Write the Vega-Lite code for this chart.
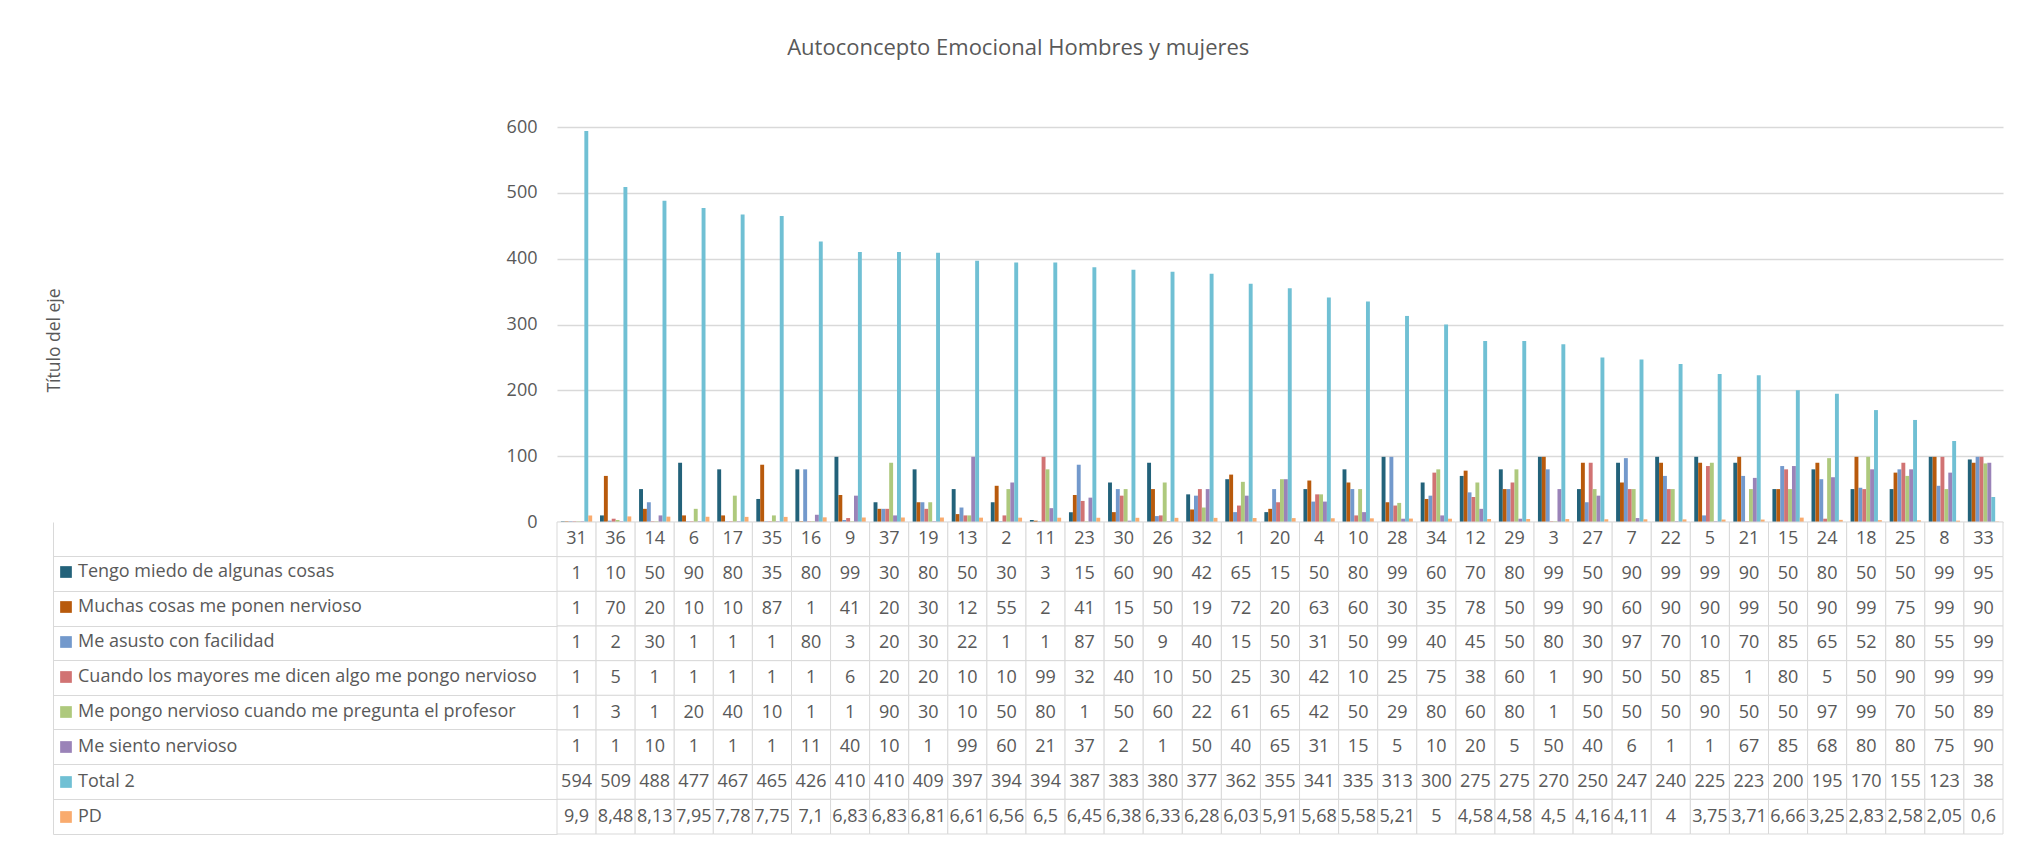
{
  "$schema": "https://vega.github.io/schema/vega-lite/v6.json",
  "padding": {"left": 45, "top": 37, "right": 16, "bottom": 8},
  "background": "white",
  "bounds": "flush",
  "title": {"text": "Autoconcepto Emocional Hombres y mujeres", "fontSize": 22, "fontWeight": "normal", "color": "#595959", "font": "Open Sans", "anchor": "middle", "offset": 58, "dx": -6},
  "config": {
    "view": {"stroke": null},
    "font": "Open Sans",
    "locale": {"number": {"decimal": ",", "thousands": ".", "grouping": [3], "currency": ["", " €"]}}
  },
  "resolve": {"scale": {"color": "independent"}, "legend": {"color": "independent"}},
  "spacing": 0,
  "datasets": {
    "d": [
      {"cat": 31, "Tengo miedo de algunas cosas": 1, "Muchas cosas me ponen nervioso": 1, "Me asusto con facilidad": 1, "Cuando los mayores me dicen algo me pongo nervioso": 1, "Me pongo nervioso cuando me pregunta el profesor": 1, "Me siento nervioso": 1, "Total 2": 594, "PD": 9.9},
      {"cat": 36, "Tengo miedo de algunas cosas": 10, "Muchas cosas me ponen nervioso": 70, "Me asusto con facilidad": 2, "Cuando los mayores me dicen algo me pongo nervioso": 5, "Me pongo nervioso cuando me pregunta el profesor": 3, "Me siento nervioso": 1, "Total 2": 509, "PD": 8.48},
      {"cat": 14, "Tengo miedo de algunas cosas": 50, "Muchas cosas me ponen nervioso": 20, "Me asusto con facilidad": 30, "Cuando los mayores me dicen algo me pongo nervioso": 1, "Me pongo nervioso cuando me pregunta el profesor": 1, "Me siento nervioso": 10, "Total 2": 488, "PD": 8.13},
      {"cat": 6, "Tengo miedo de algunas cosas": 90, "Muchas cosas me ponen nervioso": 10, "Me asusto con facilidad": 1, "Cuando los mayores me dicen algo me pongo nervioso": 1, "Me pongo nervioso cuando me pregunta el profesor": 20, "Me siento nervioso": 1, "Total 2": 477, "PD": 7.95},
      {"cat": 17, "Tengo miedo de algunas cosas": 80, "Muchas cosas me ponen nervioso": 10, "Me asusto con facilidad": 1, "Cuando los mayores me dicen algo me pongo nervioso": 1, "Me pongo nervioso cuando me pregunta el profesor": 40, "Me siento nervioso": 1, "Total 2": 467, "PD": 7.78},
      {"cat": 35, "Tengo miedo de algunas cosas": 35, "Muchas cosas me ponen nervioso": 87, "Me asusto con facilidad": 1, "Cuando los mayores me dicen algo me pongo nervioso": 1, "Me pongo nervioso cuando me pregunta el profesor": 10, "Me siento nervioso": 1, "Total 2": 465, "PD": 7.75},
      {"cat": 16, "Tengo miedo de algunas cosas": 80, "Muchas cosas me ponen nervioso": 1, "Me asusto con facilidad": 80, "Cuando los mayores me dicen algo me pongo nervioso": 1, "Me pongo nervioso cuando me pregunta el profesor": 1, "Me siento nervioso": 11, "Total 2": 426, "PD": 7.1},
      {"cat": 9, "Tengo miedo de algunas cosas": 99, "Muchas cosas me ponen nervioso": 41, "Me asusto con facilidad": 3, "Cuando los mayores me dicen algo me pongo nervioso": 6, "Me pongo nervioso cuando me pregunta el profesor": 1, "Me siento nervioso": 40, "Total 2": 410, "PD": 6.83},
      {"cat": 37, "Tengo miedo de algunas cosas": 30, "Muchas cosas me ponen nervioso": 20, "Me asusto con facilidad": 20, "Cuando los mayores me dicen algo me pongo nervioso": 20, "Me pongo nervioso cuando me pregunta el profesor": 90, "Me siento nervioso": 10, "Total 2": 410, "PD": 6.83},
      {"cat": 19, "Tengo miedo de algunas cosas": 80, "Muchas cosas me ponen nervioso": 30, "Me asusto con facilidad": 30, "Cuando los mayores me dicen algo me pongo nervioso": 20, "Me pongo nervioso cuando me pregunta el profesor": 30, "Me siento nervioso": 1, "Total 2": 409, "PD": 6.81},
      {"cat": 13, "Tengo miedo de algunas cosas": 50, "Muchas cosas me ponen nervioso": 12, "Me asusto con facilidad": 22, "Cuando los mayores me dicen algo me pongo nervioso": 10, "Me pongo nervioso cuando me pregunta el profesor": 10, "Me siento nervioso": 99, "Total 2": 397, "PD": 6.61},
      {"cat": 2, "Tengo miedo de algunas cosas": 30, "Muchas cosas me ponen nervioso": 55, "Me asusto con facilidad": 1, "Cuando los mayores me dicen algo me pongo nervioso": 10, "Me pongo nervioso cuando me pregunta el profesor": 50, "Me siento nervioso": 60, "Total 2": 394, "PD": 6.56},
      {"cat": 11, "Tengo miedo de algunas cosas": 3, "Muchas cosas me ponen nervioso": 2, "Me asusto con facilidad": 1, "Cuando los mayores me dicen algo me pongo nervioso": 99, "Me pongo nervioso cuando me pregunta el profesor": 80, "Me siento nervioso": 21, "Total 2": 394, "PD": 6.5},
      {"cat": 23, "Tengo miedo de algunas cosas": 15, "Muchas cosas me ponen nervioso": 41, "Me asusto con facilidad": 87, "Cuando los mayores me dicen algo me pongo nervioso": 32, "Me pongo nervioso cuando me pregunta el profesor": 1, "Me siento nervioso": 37, "Total 2": 387, "PD": 6.45},
      {"cat": 30, "Tengo miedo de algunas cosas": 60, "Muchas cosas me ponen nervioso": 15, "Me asusto con facilidad": 50, "Cuando los mayores me dicen algo me pongo nervioso": 40, "Me pongo nervioso cuando me pregunta el profesor": 50, "Me siento nervioso": 2, "Total 2": 383, "PD": 6.38},
      {"cat": 26, "Tengo miedo de algunas cosas": 90, "Muchas cosas me ponen nervioso": 50, "Me asusto con facilidad": 9, "Cuando los mayores me dicen algo me pongo nervioso": 10, "Me pongo nervioso cuando me pregunta el profesor": 60, "Me siento nervioso": 1, "Total 2": 380, "PD": 6.33},
      {"cat": 32, "Tengo miedo de algunas cosas": 42, "Muchas cosas me ponen nervioso": 19, "Me asusto con facilidad": 40, "Cuando los mayores me dicen algo me pongo nervioso": 50, "Me pongo nervioso cuando me pregunta el profesor": 22, "Me siento nervioso": 50, "Total 2": 377, "PD": 6.28},
      {"cat": 1, "Tengo miedo de algunas cosas": 65, "Muchas cosas me ponen nervioso": 72, "Me asusto con facilidad": 15, "Cuando los mayores me dicen algo me pongo nervioso": 25, "Me pongo nervioso cuando me pregunta el profesor": 61, "Me siento nervioso": 40, "Total 2": 362, "PD": 6.03},
      {"cat": 20, "Tengo miedo de algunas cosas": 15, "Muchas cosas me ponen nervioso": 20, "Me asusto con facilidad": 50, "Cuando los mayores me dicen algo me pongo nervioso": 30, "Me pongo nervioso cuando me pregunta el profesor": 65, "Me siento nervioso": 65, "Total 2": 355, "PD": 5.91},
      {"cat": 4, "Tengo miedo de algunas cosas": 50, "Muchas cosas me ponen nervioso": 63, "Me asusto con facilidad": 31, "Cuando los mayores me dicen algo me pongo nervioso": 42, "Me pongo nervioso cuando me pregunta el profesor": 42, "Me siento nervioso": 31, "Total 2": 341, "PD": 5.68},
      {"cat": 10, "Tengo miedo de algunas cosas": 80, "Muchas cosas me ponen nervioso": 60, "Me asusto con facilidad": 50, "Cuando los mayores me dicen algo me pongo nervioso": 10, "Me pongo nervioso cuando me pregunta el profesor": 50, "Me siento nervioso": 15, "Total 2": 335, "PD": 5.58},
      {"cat": 28, "Tengo miedo de algunas cosas": 99, "Muchas cosas me ponen nervioso": 30, "Me asusto con facilidad": 99, "Cuando los mayores me dicen algo me pongo nervioso": 25, "Me pongo nervioso cuando me pregunta el profesor": 29, "Me siento nervioso": 5, "Total 2": 313, "PD": 5.21},
      {"cat": 34, "Tengo miedo de algunas cosas": 60, "Muchas cosas me ponen nervioso": 35, "Me asusto con facilidad": 40, "Cuando los mayores me dicen algo me pongo nervioso": 75, "Me pongo nervioso cuando me pregunta el profesor": 80, "Me siento nervioso": 10, "Total 2": 300, "PD": 5},
      {"cat": 12, "Tengo miedo de algunas cosas": 70, "Muchas cosas me ponen nervioso": 78, "Me asusto con facilidad": 45, "Cuando los mayores me dicen algo me pongo nervioso": 38, "Me pongo nervioso cuando me pregunta el profesor": 60, "Me siento nervioso": 20, "Total 2": 275, "PD": 4.58},
      {"cat": 29, "Tengo miedo de algunas cosas": 80, "Muchas cosas me ponen nervioso": 50, "Me asusto con facilidad": 50, "Cuando los mayores me dicen algo me pongo nervioso": 60, "Me pongo nervioso cuando me pregunta el profesor": 80, "Me siento nervioso": 5, "Total 2": 275, "PD": 4.58},
      {"cat": 3, "Tengo miedo de algunas cosas": 99, "Muchas cosas me ponen nervioso": 99, "Me asusto con facilidad": 80, "Cuando los mayores me dicen algo me pongo nervioso": 1, "Me pongo nervioso cuando me pregunta el profesor": 1, "Me siento nervioso": 50, "Total 2": 270, "PD": 4.5},
      {"cat": 27, "Tengo miedo de algunas cosas": 50, "Muchas cosas me ponen nervioso": 90, "Me asusto con facilidad": 30, "Cuando los mayores me dicen algo me pongo nervioso": 90, "Me pongo nervioso cuando me pregunta el profesor": 50, "Me siento nervioso": 40, "Total 2": 250, "PD": 4.16},
      {"cat": 7, "Tengo miedo de algunas cosas": 90, "Muchas cosas me ponen nervioso": 60, "Me asusto con facilidad": 97, "Cuando los mayores me dicen algo me pongo nervioso": 50, "Me pongo nervioso cuando me pregunta el profesor": 50, "Me siento nervioso": 6, "Total 2": 247, "PD": 4.11},
      {"cat": 22, "Tengo miedo de algunas cosas": 99, "Muchas cosas me ponen nervioso": 90, "Me asusto con facilidad": 70, "Cuando los mayores me dicen algo me pongo nervioso": 50, "Me pongo nervioso cuando me pregunta el profesor": 50, "Me siento nervioso": 1, "Total 2": 240, "PD": 4},
      {"cat": 5, "Tengo miedo de algunas cosas": 99, "Muchas cosas me ponen nervioso": 90, "Me asusto con facilidad": 10, "Cuando los mayores me dicen algo me pongo nervioso": 85, "Me pongo nervioso cuando me pregunta el profesor": 90, "Me siento nervioso": 1, "Total 2": 225, "PD": 3.75},
      {"cat": 21, "Tengo miedo de algunas cosas": 90, "Muchas cosas me ponen nervioso": 99, "Me asusto con facilidad": 70, "Cuando los mayores me dicen algo me pongo nervioso": 1, "Me pongo nervioso cuando me pregunta el profesor": 50, "Me siento nervioso": 67, "Total 2": 223, "PD": 3.71},
      {"cat": 15, "Tengo miedo de algunas cosas": 50, "Muchas cosas me ponen nervioso": 50, "Me asusto con facilidad": 85, "Cuando los mayores me dicen algo me pongo nervioso": 80, "Me pongo nervioso cuando me pregunta el profesor": 50, "Me siento nervioso": 85, "Total 2": 200, "PD": 6.66},
      {"cat": 24, "Tengo miedo de algunas cosas": 80, "Muchas cosas me ponen nervioso": 90, "Me asusto con facilidad": 65, "Cuando los mayores me dicen algo me pongo nervioso": 5, "Me pongo nervioso cuando me pregunta el profesor": 97, "Me siento nervioso": 68, "Total 2": 195, "PD": 3.25},
      {"cat": 18, "Tengo miedo de algunas cosas": 50, "Muchas cosas me ponen nervioso": 99, "Me asusto con facilidad": 52, "Cuando los mayores me dicen algo me pongo nervioso": 50, "Me pongo nervioso cuando me pregunta el profesor": 99, "Me siento nervioso": 80, "Total 2": 170, "PD": 2.83},
      {"cat": 25, "Tengo miedo de algunas cosas": 50, "Muchas cosas me ponen nervioso": 75, "Me asusto con facilidad": 80, "Cuando los mayores me dicen algo me pongo nervioso": 90, "Me pongo nervioso cuando me pregunta el profesor": 70, "Me siento nervioso": 80, "Total 2": 155, "PD": 2.58},
      {"cat": 8, "Tengo miedo de algunas cosas": 99, "Muchas cosas me ponen nervioso": 99, "Me asusto con facilidad": 55, "Cuando los mayores me dicen algo me pongo nervioso": 99, "Me pongo nervioso cuando me pregunta el profesor": 50, "Me siento nervioso": 75, "Total 2": 123, "PD": 2.05},
      {"cat": 33, "Tengo miedo de algunas cosas": 95, "Muchas cosas me ponen nervioso": 90, "Me asusto con facilidad": 99, "Cuando los mayores me dicen algo me pongo nervioso": 99, "Me pongo nervioso cuando me pregunta el profesor": 89, "Me siento nervioso": 90, "Total 2": 38, "PD": 0.6}
    ]
  },
  "vconcat": [
    {
      "width": 1446,
      "height": 395,
      "data": {"name": "d"},
      "transform": [{"fold": ["Tengo miedo de algunas cosas", "Muchas cosas me ponen nervioso", "Me asusto con facilidad", "Cuando los mayores me dicen algo me pongo nervioso", "Me pongo nervioso cuando me pregunta el profesor", "Me siento nervioso", "Total 2", "PD"], "as": ["serie", "v"]}],
      "mark": {"type": "bar"},
      "encoding": {
        "x": {"field": "cat", "type": "ordinal", "sort": [31,36,14,6,17,35,16,9,37,19,13,2,11,23,30,26,32,1,20,4,10,28,34,12,29,3,27,7,22,5,21,15,24,18,25,8,33], "scale": {"paddingInner": 0.2, "paddingOuter": 0.1}, "axis": null},
        "xOffset": {"field": "serie", "type": "nominal", "scale": {"domain": ["Tengo miedo de algunas cosas", "Muchas cosas me ponen nervioso", "Me asusto con facilidad", "Cuando los mayores me dicen algo me pongo nervioso", "Me pongo nervioso cuando me pregunta el profesor", "Me siento nervioso", "Total 2", "PD"], "paddingInner": 0, "paddingOuter": 0}},
        "y": {"field": "v", "type": "quantitative", "scale": {"domain": [0, 600], "nice": false},
          "axis": {"values": [0, 100, 200, 300, 400, 500, 600], "domain": false, "ticks": false, "grid": true, "gridColor": "#d9d9d9", "gridWidth": 1.3, "labelFontSize": 18, "labelColor": "#595959", "labelPadding": 20, "title": "Título del eje", "titleFontSize": 17.5, "titleColor": "#595959", "titleFontWeight": "normal", "titleX": -503, "titleY": 213, "titleAngle": -90, "titleAlign": "center", "titleBaseline": "middle"}},
        "color": {"field": "serie", "type": "nominal", "scale": {"domain": ["Tengo miedo de algunas cosas", "Muchas cosas me ponen nervioso", "Me asusto con facilidad", "Cuando los mayores me dicen algo me pongo nervioso", "Me pongo nervioso cuando me pregunta el profesor", "Me siento nervioso", "Total 2", "PD"], "range": ["#23627a", "#b85a0c", "#7399cc", "#d17373", "#aec97d", "#9a83b8", "#70c0d4", "#f9ab6e"]}, "legend": null}
      }
    },
    {
      "width": 1446,
      "height": 312,
      "data": {"name": "d"},
      "transform": [{"fold": ["cat", "Tengo miedo de algunas cosas", "Muchas cosas me ponen nervioso", "Me asusto con facilidad", "Cuando los mayores me dicen algo me pongo nervioso", "Me pongo nervioso cuando me pregunta el profesor", "Me siento nervioso", "Total 2", "PD"], "as": ["fila", "val"]}],
      "encoding": {
        "x": {"field": "cat", "type": "ordinal", "sort": [31,36,14,6,17,35,16,9,37,19,13,2,11,23,30,26,32,1,20,4,10,28,34,12,29,3,27,7,22,5,21,15,24,18,25,8,33], "scale": {"paddingInner": 0, "paddingOuter": 0}, "axis": null},
        "y": {"field": "fila", "type": "nominal", "sort": ["cat", "Tengo miedo de algunas cosas", "Muchas cosas me ponen nervioso", "Me asusto con facilidad", "Cuando los mayores me dicen algo me pongo nervioso", "Me pongo nervioso cuando me pregunta el profesor", "Me siento nervioso", "Total 2", "PD"], "scale": {"paddingInner": 0, "paddingOuter": 0},
          "axis": {"orient": "left", "offset": 504, "tickSize": -504, "bandPosition": 1, "labels": false, "title": null, "grid": false, "domainColor": "#d9d9d9", "tickColor": "#d9d9d9", "domainWidth": 1, "tickWidth": 1}}
      },
      "layer": [
        {"mark": {"type": "rect", "fill": "white", "stroke": "#d9d9d9", "strokeWidth": 1}},
        {"mark": {"type": "text", "fontSize": 18, "color": "#595959", "font": "Open Sans"}, "encoding": {"text": {"field": "val", "type": "quantitative", "format": ".2~f"}}},
        {
          "transform": [{"filter": "datum.fila !== 'cat'"}],
          "mark": {"type": "square", "opacity": 0},
          "encoding": {
            "color": {"field": "fila", "type": "nominal", "scale": {"domain": ["Tengo miedo de algunas cosas", "Muchas cosas me ponen nervioso", "Me asusto con facilidad", "Cuando los mayores me dicen algo me pongo nervioso", "Me pongo nervioso cuando me pregunta el profesor", "Me siento nervioso", "Total 2", "PD"], "range": ["#23627a", "#b85a0c", "#7399cc", "#d17373", "#aec97d", "#9a83b8", "#70c0d4", "#f9ab6e"]},
              "legend": {"title": null, "orient": "none", "legendX": -500, "legendY": 41, "symbolType": "square", "symbolSize": 137, "symbolStrokeWidth": 0, "symbolOpacity": 1, "labelFontSize": 18, "labelColor": "#595959", "labelFont": "Open Sans", "labelLimit": 600, "labelOffset": 3, "rowPadding": 17, "padding": 0}}
          }
        }
      ]
    }
  ]
}
